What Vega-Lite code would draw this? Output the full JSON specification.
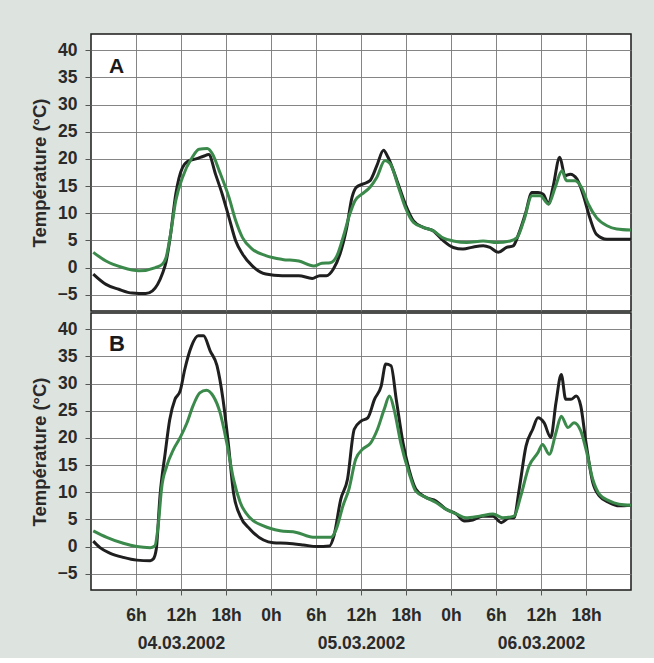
{
  "$schema": "https://vega.github.io/schema/vega-lite/v6.json",
  "background": "#dde4df",
  "padding": {"left": 29, "top": 33, "right": 22, "bottom": 5},
  "spacing": 0,
  "datasets": {
    "temps": [
      {"panel":"A","sensor":"noir","hour":0.3,"temp":-1.2},{"panel":"A","sensor":"noir","hour":2.0,"temp":-3.1},{"panel":"A","sensor":"noir","hour":3.7,"temp":-4.0},{"panel":"A","sensor":"noir","hour":5.5,"temp":-4.7},{"panel":"A","sensor":"noir","hour":7.3,"temp":-4.8},{"panel":"A","sensor":"noir","hour":8.2,"temp":-4.3},{"panel":"A","sensor":"noir","hour":9.5,"temp":-1.2},{"panel":"A","sensor":"noir","hour":10.0,"temp":1.0},{"panel":"A","sensor":"noir","hour":10.6,"temp":6.0},{"panel":"A","sensor":"noir","hour":11.3,"temp":13.5},{"panel":"A","sensor":"noir","hour":12.2,"temp":18.4},{"panel":"A","sensor":"noir","hour":13.1,"temp":19.7},{"panel":"A","sensor":"noir","hour":14.0,"temp":20.0},{"panel":"A","sensor":"noir","hour":15.0,"temp":20.5},{"panel":"A","sensor":"noir","hour":15.7,"temp":20.8},{"panel":"A","sensor":"noir","hour":16.6,"temp":17.2},{"panel":"A","sensor":"noir","hour":17.5,"temp":13.5},{"panel":"A","sensor":"noir","hour":18.4,"temp":9.2},{"panel":"A","sensor":"noir","hour":19.3,"temp":4.9},{"panel":"A","sensor":"noir","hour":20.2,"temp":2.5},{"panel":"A","sensor":"noir","hour":21.5,"temp":0.3},{"panel":"A","sensor":"noir","hour":23.3,"temp":-1.2},{"panel":"A","sensor":"noir","hour":25.5,"temp":-1.5},{"panel":"A","sensor":"noir","hour":27.7,"temp":-1.5},{"panel":"A","sensor":"noir","hour":29.5,"temp":-2.0},{"panel":"A","sensor":"noir","hour":30.5,"temp":-1.5},{"panel":"A","sensor":"noir","hour":31.4,"temp":-1.5},{"panel":"A","sensor":"noir","hour":32.3,"temp":-0.3},{"panel":"A","sensor":"noir","hour":33.2,"temp":2.5},{"panel":"A","sensor":"noir","hour":34.1,"temp":7.4},{"panel":"A","sensor":"noir","hour":34.8,"temp":12.9},{"panel":"A","sensor":"noir","hour":35.4,"temp":14.8},{"panel":"A","sensor":"noir","hour":36.3,"temp":15.4},{"panel":"A","sensor":"noir","hour":37.2,"temp":16.0},{"panel":"A","sensor":"noir","hour":38.1,"temp":18.7},{"panel":"A","sensor":"noir","hour":39.0,"temp":21.6},{"panel":"A","sensor":"noir","hour":39.6,"temp":20.3},{"panel":"A","sensor":"noir","hour":40.8,"temp":16.0},{"panel":"A","sensor":"noir","hour":41.9,"temp":11.7},{"panel":"A","sensor":"noir","hour":43.0,"temp":8.6},{"panel":"A","sensor":"noir","hour":44.3,"temp":7.4},{"panel":"A","sensor":"noir","hour":45.6,"temp":6.8},{"panel":"A","sensor":"noir","hour":47.0,"temp":4.9},{"panel":"A","sensor":"noir","hour":48.3,"temp":3.7},{"panel":"A","sensor":"noir","hour":49.6,"temp":3.4},{"panel":"A","sensor":"noir","hour":51.0,"temp":3.8},{"panel":"A","sensor":"noir","hour":52.3,"temp":4.0},{"panel":"A","sensor":"noir","hour":53.2,"temp":3.7},{"panel":"A","sensor":"noir","hour":54.3,"temp":2.8},{"panel":"A","sensor":"noir","hour":55.4,"temp":3.7},{"panel":"A","sensor":"noir","hour":56.3,"temp":4.0},{"panel":"A","sensor":"noir","hour":57.0,"temp":6.1},{"panel":"A","sensor":"noir","hour":57.9,"temp":9.8},{"panel":"A","sensor":"noir","hour":58.8,"temp":13.8},{"panel":"A","sensor":"noir","hour":59.6,"temp":13.8},{"panel":"A","sensor":"noir","hour":60.3,"temp":13.5},{"panel":"A","sensor":"noir","hour":61.0,"temp":11.7},{"panel":"A","sensor":"noir","hour":61.6,"temp":14.8},{"panel":"A","sensor":"noir","hour":62.5,"temp":20.3},{"panel":"A","sensor":"noir","hour":63.2,"temp":16.9},{"panel":"A","sensor":"noir","hour":63.9,"temp":17.2},{"panel":"A","sensor":"noir","hour":64.8,"temp":16.3},{"panel":"A","sensor":"noir","hour":65.6,"temp":13.5},{"panel":"A","sensor":"noir","hour":66.5,"temp":9.2},{"panel":"A","sensor":"noir","hour":67.4,"temp":6.1},{"panel":"A","sensor":"noir","hour":68.8,"temp":5.2},{"panel":"A","sensor":"noir","hour":70.1,"temp":5.2},{"panel":"A","sensor":"noir","hour":72.0,"temp":5.2},
      {"panel":"A","sensor":"vert","hour":0.3,"temp":2.8},{"panel":"A","sensor":"vert","hour":2.0,"temp":1.2},{"panel":"A","sensor":"vert","hour":4.2,"temp":0.0},{"panel":"A","sensor":"vert","hour":6.4,"temp":-0.6},{"panel":"A","sensor":"vert","hour":8.6,"temp":0.0},{"panel":"A","sensor":"vert","hour":9.5,"temp":0.6},{"panel":"A","sensor":"vert","hour":10.0,"temp":1.8},{"panel":"A","sensor":"vert","hour":10.6,"temp":6.1},{"panel":"A","sensor":"vert","hour":11.3,"temp":12.3},{"panel":"A","sensor":"vert","hour":12.2,"temp":16.6},{"panel":"A","sensor":"vert","hour":13.5,"temp":20.3},{"panel":"A","sensor":"vert","hour":14.4,"temp":21.8},{"panel":"A","sensor":"vert","hour":15.5,"temp":21.9},{"panel":"A","sensor":"vert","hour":16.2,"temp":20.9},{"panel":"A","sensor":"vert","hour":17.1,"temp":17.8},{"panel":"A","sensor":"vert","hour":18.4,"temp":12.9},{"panel":"A","sensor":"vert","hour":19.3,"temp":8.6},{"panel":"A","sensor":"vert","hour":20.2,"temp":5.5},{"panel":"A","sensor":"vert","hour":21.5,"temp":3.4},{"panel":"A","sensor":"vert","hour":23.3,"temp":2.2},{"panel":"A","sensor":"vert","hour":25.5,"temp":1.5},{"panel":"A","sensor":"vert","hour":27.7,"temp":1.2},{"panel":"A","sensor":"vert","hour":29.7,"temp":0.3},{"panel":"A","sensor":"vert","hour":30.8,"temp":0.8},{"panel":"A","sensor":"vert","hour":31.9,"temp":0.9},{"panel":"A","sensor":"vert","hour":32.8,"temp":2.2},{"panel":"A","sensor":"vert","hour":33.6,"temp":5.5},{"panel":"A","sensor":"vert","hour":34.5,"temp":9.8},{"panel":"A","sensor":"vert","hour":35.2,"temp":12.3},{"panel":"A","sensor":"vert","hour":36.1,"temp":13.5},{"panel":"A","sensor":"vert","hour":37.2,"temp":14.8},{"panel":"A","sensor":"vert","hour":38.1,"temp":16.6},{"panel":"A","sensor":"vert","hour":39.2,"temp":19.7},{"panel":"A","sensor":"vert","hour":39.9,"temp":19.1},{"panel":"A","sensor":"vert","hour":41.0,"temp":14.8},{"panel":"A","sensor":"vert","hour":41.9,"temp":11.1},{"panel":"A","sensor":"vert","hour":43.0,"temp":8.3},{"panel":"A","sensor":"vert","hour":44.3,"temp":7.4},{"panel":"A","sensor":"vert","hour":45.6,"temp":6.8},{"panel":"A","sensor":"vert","hour":47.0,"temp":5.4},{"panel":"A","sensor":"vert","hour":48.3,"temp":4.9},{"panel":"A","sensor":"vert","hour":50.1,"temp":4.6},{"panel":"A","sensor":"vert","hour":52.3,"temp":4.9},{"panel":"A","sensor":"vert","hour":54.1,"temp":4.6},{"panel":"A","sensor":"vert","hour":55.9,"temp":4.9},{"panel":"A","sensor":"vert","hour":56.8,"temp":5.5},{"panel":"A","sensor":"vert","hour":57.7,"temp":8.6},{"panel":"A","sensor":"vert","hour":58.8,"temp":13.2},{"panel":"A","sensor":"vert","hour":59.9,"temp":13.2},{"panel":"A","sensor":"vert","hour":61.0,"temp":11.7},{"panel":"A","sensor":"vert","hour":61.9,"temp":14.8},{"panel":"A","sensor":"vert","hour":62.8,"temp":17.8},{"panel":"A","sensor":"vert","hour":63.4,"temp":16.0},{"panel":"A","sensor":"vert","hour":64.5,"temp":16.0},{"panel":"A","sensor":"vert","hour":65.4,"temp":14.8},{"panel":"A","sensor":"vert","hour":66.3,"temp":11.7},{"panel":"A","sensor":"vert","hour":67.4,"temp":9.2},{"panel":"A","sensor":"vert","hour":68.8,"temp":7.7},{"panel":"A","sensor":"vert","hour":70.1,"temp":7.1},{"panel":"A","sensor":"vert","hour":72.0,"temp":6.9},
      {"panel":"B","sensor":"noir","hour":0.3,"temp":1.0},{"panel":"B","sensor":"noir","hour":1.2,"temp":-0.2},{"panel":"B","sensor":"noir","hour":2.5,"temp":-1.2},{"panel":"B","sensor":"noir","hour":4.3,"temp":-2.0},{"panel":"B","sensor":"noir","hour":6.1,"temp":-2.5},{"panel":"B","sensor":"noir","hour":7.9,"temp":-2.6},{"panel":"B","sensor":"noir","hour":8.3,"temp":-2.3},{"panel":"B","sensor":"noir","hour":8.7,"temp":-0.5},{"panel":"B","sensor":"noir","hour":9.2,"temp":9.3},{"panel":"B","sensor":"noir","hour":9.9,"temp":17.3},{"panel":"B","sensor":"noir","hour":10.5,"temp":23.4},{"panel":"B","sensor":"noir","hour":11.2,"temp":27.1},{"panel":"B","sensor":"noir","hour":11.9,"temp":28.7},{"panel":"B","sensor":"noir","hour":12.5,"temp":32.6},{"panel":"B","sensor":"noir","hour":13.4,"temp":36.9},{"panel":"B","sensor":"noir","hour":14.3,"temp":38.8},{"panel":"B","sensor":"noir","hour":15.0,"temp":38.8},{"panel":"B","sensor":"noir","hour":15.9,"temp":36.0},{"panel":"B","sensor":"noir","hour":16.8,"temp":33.3},{"panel":"B","sensor":"noir","hour":17.6,"temp":27.1},{"panel":"B","sensor":"noir","hour":18.3,"temp":19.1},{"panel":"B","sensor":"noir","hour":19.0,"temp":9.9},{"panel":"B","sensor":"noir","hour":19.9,"temp":5.6},{"panel":"B","sensor":"noir","hour":21.2,"temp":3.2},{"panel":"B","sensor":"noir","hour":23.0,"temp":1.2},{"panel":"B","sensor":"noir","hour":24.3,"temp":0.7},{"panel":"B","sensor":"noir","hour":26.1,"temp":0.6},{"panel":"B","sensor":"noir","hour":28.3,"temp":0.3},{"panel":"B","sensor":"noir","hour":30.1,"temp":0.0},{"panel":"B","sensor":"noir","hour":31.8,"temp":0.1},{"panel":"B","sensor":"noir","hour":32.4,"temp":2.0},{"panel":"B","sensor":"noir","hour":33.3,"temp":8.7},{"panel":"B","sensor":"noir","hour":34.2,"temp":12.4},{"panel":"B","sensor":"noir","hour":35.1,"temp":21.6},{"panel":"B","sensor":"noir","hour":36.0,"temp":23.1},{"panel":"B","sensor":"noir","hour":36.9,"temp":23.7},{"panel":"B","sensor":"noir","hour":37.8,"temp":27.1},{"panel":"B","sensor":"noir","hour":38.7,"temp":29.6},{"panel":"B","sensor":"noir","hour":39.3,"temp":33.6},{"panel":"B","sensor":"noir","hour":40.0,"temp":33.3},{"panel":"B","sensor":"noir","hour":40.7,"temp":27.1},{"panel":"B","sensor":"noir","hour":41.6,"temp":19.1},{"panel":"B","sensor":"noir","hour":42.4,"temp":14.2},{"panel":"B","sensor":"noir","hour":43.3,"temp":10.6},{"panel":"B","sensor":"noir","hour":44.7,"temp":9.0},{"panel":"B","sensor":"noir","hour":46.0,"temp":8.4},{"panel":"B","sensor":"noir","hour":47.3,"temp":6.9},{"panel":"B","sensor":"noir","hour":48.7,"temp":6.0},{"panel":"B","sensor":"noir","hour":49.8,"temp":4.7},{"panel":"B","sensor":"noir","hour":50.9,"temp":4.9},{"panel":"B","sensor":"noir","hour":52.2,"temp":5.6},{"panel":"B","sensor":"noir","hour":53.6,"temp":5.6},{"panel":"B","sensor":"noir","hour":54.7,"temp":4.4},{"panel":"B","sensor":"noir","hour":55.8,"temp":5.3},{"panel":"B","sensor":"noir","hour":56.4,"temp":5.3},{"panel":"B","sensor":"noir","hour":57.1,"temp":10.6},{"panel":"B","sensor":"noir","hour":58.0,"temp":18.5},{"panel":"B","sensor":"noir","hour":58.9,"temp":21.6},{"panel":"B","sensor":"noir","hour":59.6,"temp":23.7},{"panel":"B","sensor":"noir","hour":60.4,"temp":22.8},{"panel":"B","sensor":"noir","hour":61.3,"temp":20.1},{"panel":"B","sensor":"noir","hour":62.0,"temp":26.5},{"panel":"B","sensor":"noir","hour":62.7,"temp":31.7},{"panel":"B","sensor":"noir","hour":63.3,"temp":27.1},{"panel":"B","sensor":"noir","hour":64.0,"temp":27.1},{"panel":"B","sensor":"noir","hour":64.7,"temp":27.7},{"panel":"B","sensor":"noir","hour":65.3,"temp":25.9},{"panel":"B","sensor":"noir","hour":66.0,"temp":19.1},{"panel":"B","sensor":"noir","hour":66.9,"temp":11.8},{"panel":"B","sensor":"noir","hour":67.8,"temp":9.3},{"panel":"B","sensor":"noir","hour":69.1,"temp":8.1},{"panel":"B","sensor":"noir","hour":70.4,"temp":7.5},{"panel":"B","sensor":"noir","hour":72.0,"temp":7.6},
      {"panel":"B","sensor":"vert","hour":0.3,"temp":2.9},{"panel":"B","sensor":"vert","hour":2.1,"temp":1.7},{"panel":"B","sensor":"vert","hour":4.3,"temp":0.6},{"panel":"B","sensor":"vert","hour":6.1,"temp":0.0},{"panel":"B","sensor":"vert","hour":7.9,"temp":-0.2},{"panel":"B","sensor":"vert","hour":8.5,"temp":0.1},{"panel":"B","sensor":"vert","hour":9.0,"temp":4.4},{"panel":"B","sensor":"vert","hour":9.4,"temp":10.6},{"panel":"B","sensor":"vert","hour":10.1,"temp":14.8},{"panel":"B","sensor":"vert","hour":11.0,"temp":17.9},{"panel":"B","sensor":"vert","hour":11.9,"temp":20.1},{"panel":"B","sensor":"vert","hour":12.8,"temp":22.8},{"panel":"B","sensor":"vert","hour":13.6,"temp":25.9},{"panel":"B","sensor":"vert","hour":14.5,"temp":28.3},{"panel":"B","sensor":"vert","hour":15.4,"temp":28.8},{"panel":"B","sensor":"vert","hour":16.3,"temp":27.7},{"panel":"B","sensor":"vert","hour":17.2,"temp":24.7},{"panel":"B","sensor":"vert","hour":18.1,"temp":19.1},{"panel":"B","sensor":"vert","hour":19.0,"temp":12.4},{"panel":"B","sensor":"vert","hour":19.9,"temp":8.1},{"panel":"B","sensor":"vert","hour":21.2,"temp":5.3},{"panel":"B","sensor":"vert","hour":23.0,"temp":3.8},{"panel":"B","sensor":"vert","hour":25.2,"temp":2.9},{"panel":"B","sensor":"vert","hour":27.4,"temp":2.6},{"panel":"B","sensor":"vert","hour":29.6,"temp":1.7},{"panel":"B","sensor":"vert","hour":32.0,"temp":1.7},{"panel":"B","sensor":"vert","hour":32.7,"temp":3.2},{"panel":"B","sensor":"vert","hour":33.6,"temp":7.5},{"panel":"B","sensor":"vert","hour":34.4,"temp":10.6},{"panel":"B","sensor":"vert","hour":35.3,"temp":16.1},{"panel":"B","sensor":"vert","hour":36.2,"temp":17.9},{"panel":"B","sensor":"vert","hour":37.3,"temp":19.1},{"panel":"B","sensor":"vert","hour":38.2,"temp":21.6},{"panel":"B","sensor":"vert","hour":39.1,"temp":25.3},{"panel":"B","sensor":"vert","hour":39.8,"temp":27.7},{"panel":"B","sensor":"vert","hour":40.4,"temp":25.3},{"panel":"B","sensor":"vert","hour":41.3,"temp":19.1},{"panel":"B","sensor":"vert","hour":42.4,"temp":13.6},{"panel":"B","sensor":"vert","hour":43.3,"temp":10.2},{"panel":"B","sensor":"vert","hour":44.7,"temp":9.0},{"panel":"B","sensor":"vert","hour":46.0,"temp":8.1},{"panel":"B","sensor":"vert","hour":47.3,"temp":6.9},{"panel":"B","sensor":"vert","hour":48.7,"temp":6.0},{"panel":"B","sensor":"vert","hour":50.0,"temp":5.3},{"panel":"B","sensor":"vert","hour":51.8,"temp":5.6},{"panel":"B","sensor":"vert","hour":53.6,"temp":6.0},{"panel":"B","sensor":"vert","hour":54.9,"temp":5.3},{"panel":"B","sensor":"vert","hour":56.4,"temp":5.6},{"panel":"B","sensor":"vert","hour":57.3,"temp":9.3},{"panel":"B","sensor":"vert","hour":58.4,"temp":14.8},{"panel":"B","sensor":"vert","hour":59.6,"temp":17.3},{"panel":"B","sensor":"vert","hour":60.2,"temp":18.8},{"panel":"B","sensor":"vert","hour":61.1,"temp":17.0},{"panel":"B","sensor":"vert","hour":62.0,"temp":21.0},{"panel":"B","sensor":"vert","hour":62.7,"temp":24.0},{"panel":"B","sensor":"vert","hour":63.6,"temp":21.9},{"panel":"B","sensor":"vert","hour":64.4,"temp":22.8},{"panel":"B","sensor":"vert","hour":65.3,"temp":21.3},{"panel":"B","sensor":"vert","hour":66.0,"temp":17.9},{"panel":"B","sensor":"vert","hour":66.9,"temp":12.4},{"panel":"B","sensor":"vert","hour":67.8,"temp":9.6},{"panel":"B","sensor":"vert","hour":69.1,"temp":8.4},{"panel":"B","sensor":"vert","hour":70.4,"temp":7.8},{"panel":"B","sensor":"vert","hour":72.0,"temp":7.6}
    ]
  },
  "vconcat": [
    {
      "width": 540,
      "height": 277,
      "data": {"name": "temps"},
      "transform": [{"filter": "datum.panel == 'A'"}],
      "title": {"text": "A", "anchor": "start", "frame": "group", "offset": -60, "dx": 18, "fontSize": 21, "fontWeight": "bold", "color": "#1a1a1a", "baseline": "alphabetic"},
      "mark": {"type": "line", "strokeWidth": 3, "clip": true, "interpolate": "monotone"},
      "encoding": {
        "x": {"field": "hour", "type": "quantitative", "scale": {"domain": [0, 72], "nice": false},
              "axis": {"values": [6, 12, 18, 24, 30, 36, 42, 48, 54, 60, 66], "labels": false, "ticks": false, "domain": false, "title": null}},
        "y": {"field": "temp", "type": "quantitative", "scale": {"domain": [-8, 43], "nice": false, "zero": false},
              "axis": {"values": [-5, 0, 5, 10, 15, 20, 25, 30, 35, 40], "title": "Température (°C)"}},
        "color": {"field": "sensor", "type": "nominal", "scale": {"domain": ["noir", "vert"], "range": ["#1f1f1f", "#3b8a4b"]}, "legend": null}
      }
    },
    {
      "width": 540,
      "height": 277,
      "data": {"name": "temps"},
      "transform": [{"filter": "datum.panel == 'B'"}],
      "title": {"text": "B", "anchor": "start", "frame": "group", "offset": -60, "dx": 18, "fontSize": 22, "fontWeight": "bold", "color": "#1a1a1a", "baseline": "alphabetic"},
      "mark": {"type": "line", "strokeWidth": 3, "clip": true, "interpolate": "monotone"},
      "encoding": {
        "x": {"field": "hour", "type": "quantitative", "scale": {"domain": [0, 72], "nice": false},
              "axis": {"values": [6, 12, 18, 24, 30, 36, 42, 48, 54, 60, 66], "domain": false, "title": null, "tickSize": 5, "labelPadding": 11, "labelLineHeight": 28,
                       "labelExpr": "datum.value == 12 ? ['12h', '04.03.2002'] : datum.value == 36 ? ['12h', '05.03.2002'] : datum.value == 60 ? ['12h', '06.03.2002'] : (datum.value % 24) + 'h'"}},
        "y": {"field": "temp", "type": "quantitative", "scale": {"domain": [-8, 43], "nice": false, "zero": false},
              "axis": {"values": [-5, 0, 5, 10, 15, 20, 25, 30, 35, 40], "title": "Température (°C)"}},
        "color": {"field": "sensor", "type": "nominal", "scale": {"domain": ["noir", "vert"], "range": ["#1f1f1f", "#3b8a4b"]}, "legend": null}
      }
    }
  ],
  "config": {
    "font": "Liberation Sans",
    "view": {"stroke": "#1a1a1a", "strokeWidth": 1.5, "fill": "white"},
    "axis": {
      "grid": true,
      "gridColor": "#777777",
      "gridWidth": 0.9,
      "gridOpacity": 1,
      "domain": false,
      "tickColor": "#555555",
      "tickWidth": 1,
      "tickSize": 6,
      "labelFont": "Liberation Sans",
      "labelFontSize": 17.5,
      "labelFontWeight": "bold",
      "labelColor": "#2a2a2a",
      "labelPadding": 8,
      "labelFlush": false,
      "labelOverlap": false,
      "titleFont": "Liberation Sans",
      "titleFontSize": 18.5,
      "titleFontWeight": "bold",
      "titleColor": "#2a2a2a",
      "titlePadding": 8
    }
  }
}
